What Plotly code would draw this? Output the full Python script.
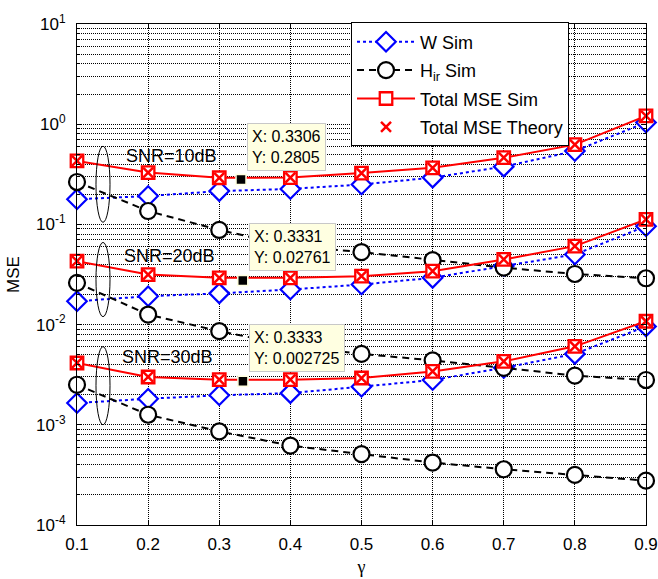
import numpy as np
import plotly.graph_objects as go

# ---------------- data ----------------
gamma = [0.1, 0.2, 0.3, 0.4, 0.5, 0.6, 0.7, 0.8, 0.9]

# SNR = 10 dB
w_sim_10 = [0.178, 0.192, 0.215, 0.226, 0.250, 0.293, 0.377, 0.54, 1.04]
h_sim_10 = [0.265, 0.136, 0.088, 0.061, 0.053, 0.044, 0.037, 0.032, 0.029]
tot_sim_10 = [0.43, 0.329, 0.292, 0.293, 0.325, 0.367, 0.463, 0.625, 1.21]
tot_th_10 = [0.43, 0.329, 0.292, 0.293, 0.325, 0.367, 0.463, 0.625, 1.21]

# SNR = 20 dB
w_sim_20 = [0.0171, 0.0192, 0.0205, 0.0224, 0.0251, 0.0293, 0.0384, 0.0501, 0.096]
h_sim_20 = [0.0261, 0.0126, 0.0086, 0.0062, 0.0051, 0.0044, 0.0037, 0.0031, 0.0028]
tot_sim_20 = [0.043, 0.0316, 0.0293, 0.0293, 0.0304, 0.0341, 0.0447, 0.0607, 0.112]
tot_th_20 = [0.043, 0.0316, 0.0293, 0.0293, 0.0304, 0.0341, 0.0447, 0.0607, 0.112]

# SNR = 30 dB
w_sim_30 = [0.00165, 0.00182, 0.00197, 0.00207, 0.00240, 0.00280, 0.0037, 0.0051, 0.0096]
h_sim_30 = [0.00251, 0.00126, 0.00086, 0.00062, 0.00051, 0.00042, 0.00036, 0.000316, 0.000277]
tot_sim_30 = [0.00414, 0.0030, 0.00282, 0.00282, 0.00293, 0.00341, 0.0043, 0.00607, 0.0108]
tot_th_30 = [0.00414, 0.0030, 0.00282, 0.00282, 0.00293, 0.00341, 0.0043, 0.00607, 0.0108]

# data tips
tip_x = [0.3306, 0.3331, 0.3333]
tip_y = [0.2805, 0.02761, 0.002725]
tip_x_text = ["0.3306", "0.3331", "0.3333"]
tip_y_text = ["0.2805", "0.02761", "0.002725"]

snr_labels = ["SNR=10dB", "SNR=20dB", "SNR=30dB"]
snr_label_x = [0.233, 0.230, 0.227]
snr_label_y = [0.48, 0.048, 0.0048]

# ellipses grouping the three SNR bundles (x0, x1, y0, y1)
ellipse_x = [0.1267, 0.1464]
ellipse_y = [(0.105, 0.603), (0.0120, 0.0661), (0.00100, 0.00603)]

y_tickvals = [1e-4, 1e-3, 1e-2, 1e-1, 1e0, 1e1]
y_ticktext = ["10<sup>-4</sup>", "10<sup>-3</sup>", "10<sup>-2</sup>",
              "10<sup>-1</sup>", "10<sup>0</sup>", "10<sup>1</sup>"]
x_tickvals = gamma
x_ticktext = ["0.1", "0.2", "0.3", "0.4", "0.5", "0.6", "0.7", "0.8", "0.9"]

# ---------------- figure ----------------
FONT = "Liberation Sans, Arial, Helvetica, sans-serif"
SERIF = "Liberation Serif, Times New Roman, serif"
fig = go.Figure()

w_sets = [w_sim_10, w_sim_20, w_sim_30]
h_sets = [h_sim_10, h_sim_20, h_sim_30]
ts_sets = [tot_sim_10, tot_sim_20, tot_sim_30]
tt_sets = [tot_th_10, tot_th_20, tot_th_30]

for i, w in enumerate(w_sets):
    fig.add_trace(go.Scatter(
        x=gamma, y=w, mode="lines+markers", name="W Sim",
        legendgroup="w", showlegend=(i == 0), cliponaxis=False,
        line=dict(color="#0000ff", width=2, dash="dot"),
        marker=dict(symbol="diamond", size=15, color="white",
                    line=dict(color="#0000ff", width=2.2))))

for i, h in enumerate(h_sets):
    fig.add_trace(go.Scatter(
        x=gamma, y=h, mode="lines+markers", name="H<sub>ir</sub> Sim",
        legendgroup="h", showlegend=(i == 0), cliponaxis=False,
        line=dict(color="black", width=2, dash="7px,5px"),
        marker=dict(symbol="circle", size=16, color="white",
                    line=dict(color="black", width=2.2))))

for i, t in enumerate(ts_sets):
    fig.add_trace(go.Scatter(
        x=gamma, y=t, mode="lines+markers", name="Total MSE Sim",
        legendgroup="ts", showlegend=(i == 0), cliponaxis=False,
        line=dict(color="#ff0000", width=2),
        marker=dict(symbol="square", size=12.5, color="white",
                    line=dict(color="#ff0000", width=2.3))))

for i, t in enumerate(tt_sets):
    fig.add_trace(go.Scatter(
        x=gamma, y=t, mode="markers", name="Total MSE Theory",
        legendgroup="tt", showlegend=(i == 0), cliponaxis=False,
        marker=dict(symbol="x-thin", size=10, color="#ff0000",
                    line=dict(color="#ff0000", width=2.5))))

# data-tip markers
fig.add_trace(go.Scatter(
    x=tip_x, y=tip_y, mode="markers", showlegend=False, cliponaxis=False,
    marker=dict(symbol="square", size=10, color="black",
                line=dict(color="#ffffe0", width=1.5))))

# data-tip boxes
for xv, yv, xt, yt in zip(tip_x, tip_y, tip_x_text, tip_y_text):
    fig.add_annotation(
        x=xv, y=np.log10(yv), xref="x", yref="y",
        text=f"X: {xt}<br>Y: {yt}", showarrow=False,
        xanchor="left", yanchor="bottom", xshift=6, yshift=9,
        align="left", bgcolor="#ffffe1", bordercolor="#c8c8c8",
        borderwidth=1, borderpad=4,
        font=dict(family=FONT, size=16, color="black"))

# SNR labels
for lab, xv, yv in zip(snr_labels, snr_label_x, snr_label_y):
    fig.add_annotation(
        x=xv, y=np.log10(yv), xref="x", yref="y", text=lab,
        showarrow=False, font=dict(family=FONT, size=18, color="black"))

# ellipses
for (y0, y1) in ellipse_y:
    fig.add_shape(type="circle", xref="x", yref="y",
                  x0=ellipse_x[0], x1=ellipse_x[1], y0=y0, y1=y1,
                  line=dict(color="black", width=1))

minor_vals = [k * 10.0 ** e for e in range(-4, 1) for k in range(2, 10)]

fig.update_layout(
    width=658, height=579,
    margin=dict(l=77, r=12, t=24, b=54),
    paper_bgcolor="white", plot_bgcolor="white",
    font=dict(family=FONT, size=17, color="black"),
    legend=dict(
        x=0.8647, y=1.003, xanchor="right", yanchor="top",
        bgcolor="white", bordercolor="black", borderwidth=1,
        font=dict(family=FONT, size=18, color="black"),
        traceorder="grouped", tracegroupgap=2, itemwidth=58),
    xaxis=dict(
        range=[0.1, 0.9], tickvals=x_tickvals, ticktext=x_ticktext,
        automargin=False,
        showline=True, linecolor="black", linewidth=1, mirror="ticks",
        ticks="inside", ticklen=5, tickcolor="black",
        showgrid=True, gridcolor="black", gridwidth=1, griddash="1px,1px",
        zeroline=False, ticklabelstandoff=4,
        tickfont=dict(family=FONT, size=17),
        title=dict(text="γ", standoff=6, font=dict(family=SERIF, size=18))),
    yaxis=dict(
        type="log", range=[-4, 1], tickvals=y_tickvals, ticktext=y_ticktext,
        automargin=False,
        showline=True, linecolor="black", linewidth=1, mirror="ticks",
        ticks="inside", ticklen=5, tickcolor="black",
        showgrid=True, gridcolor="black", gridwidth=1, griddash="1px,1px",
        zeroline=False, ticklabelstandoff=7,
        tickfont=dict(family=FONT, size=17),
        minor=dict(tickvals=minor_vals, showgrid=True, gridcolor="black",
                   griddash="1px,1px", gridwidth=1, ticks="inside",
                   ticklen=3, tickcolor="black"),
        title=dict(text="MSE", standoff=12, font=dict(family=FONT, size=17))),
)

fig.write_html("out.html")
